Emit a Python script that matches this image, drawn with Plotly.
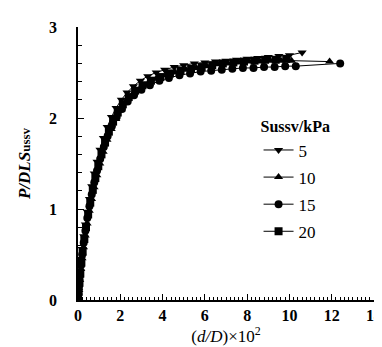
import plotly.graph_objects as go

# ---- data (x = (d/D)x10^2, y = P/DLSussv) ----
x5 = [0, 0.03, 0.06, 0.1, 0.15, 0.2, 0.27, 0.35, 0.44, 0.54, 0.65, 0.77, 0.9, 1.04, 1.2, 1.38, 1.58, 1.8, 2.05, 2.32, 2.62, 2.95, 3.3, 3.7, 4.1, 4.55, 5.0, 5.5, 6.0, 6.5, 7.0, 7.5, 8.0, 8.5, 9.0, 9.5, 10.0, 10.6]
y5 = [0, 0.1, 0.2, 0.32, 0.45, 0.56, 0.7, 0.83, 0.97, 1.11, 1.25, 1.39, 1.52, 1.65, 1.78, 1.9, 2.01, 2.11, 2.2, 2.28, 2.35, 2.41, 2.46, 2.5, 2.53, 2.56, 2.58, 2.6, 2.61, 2.62, 2.63, 2.64, 2.65, 2.66, 2.67, 2.68, 2.69, 2.72]

x10 = [0, 0.04, 0.08, 0.13, 0.19, 0.26, 0.34, 0.43, 0.53, 0.64, 0.76, 0.89, 1.03, 1.19, 1.37, 1.57, 1.79, 2.03, 2.3, 2.6, 2.93, 3.3, 3.7, 4.15, 4.6, 5.1, 5.6, 6.1, 6.6, 7.1, 7.6, 8.1, 8.6, 9.1, 9.6, 10.1, 11.9]
y10 = [0, 0.11, 0.22, 0.34, 0.46, 0.58, 0.71, 0.84, 0.98, 1.11, 1.24, 1.37, 1.5, 1.63, 1.76, 1.88, 1.99, 2.09, 2.18, 2.26, 2.32, 2.38, 2.43, 2.47, 2.5, 2.53, 2.55, 2.57, 2.59, 2.6, 2.61, 2.62, 2.62, 2.63, 2.63, 2.63, 2.62]

x15 = [0, 0.02, 0.05, 0.09, 0.14, 0.2, 0.27, 0.35, 0.44, 0.54, 0.65, 0.77, 0.9, 1.05, 1.22, 1.4, 1.6, 1.83, 2.08, 2.35, 2.65, 3.0, 3.4, 3.85, 4.3, 4.8, 5.3, 5.8, 6.3, 6.8, 7.3, 7.8, 8.3, 8.8, 9.3, 9.8, 10.3, 12.4]
y15 = [0, 0.06, 0.15, 0.26, 0.38, 0.5, 0.63, 0.76, 0.9, 1.03, 1.16, 1.29, 1.42, 1.55, 1.68, 1.8, 1.91, 2.01, 2.1, 2.18, 2.25, 2.31, 2.36, 2.41, 2.44, 2.47, 2.49, 2.51, 2.52, 2.53, 2.54, 2.55, 2.55, 2.56, 2.56, 2.57, 2.57, 2.6]

x20 = [0, 0.03, 0.07, 0.11, 0.16, 0.22, 0.3, 0.38, 0.48, 0.58, 0.7, 0.82, 0.96, 1.11, 1.28, 1.46, 1.66, 1.88, 2.12, 2.4, 2.7, 3.05, 3.45, 3.9, 4.35, 4.85, 5.35, 5.85, 6.35, 6.85, 7.35, 7.85, 8.35, 8.85, 9.35, 9.85]
y20 = [0, 0.09, 0.19, 0.29, 0.41, 0.53, 0.67, 0.8, 0.94, 1.07, 1.21, 1.34, 1.47, 1.6, 1.73, 1.85, 1.96, 2.06, 2.15, 2.23, 2.3, 2.36, 2.41, 2.45, 2.49, 2.52, 2.54, 2.56, 2.58, 2.6, 2.61, 2.62, 2.63, 2.64, 2.64, 2.65]

series_names = ["5", "10", "15", "20"]
series_x = [x5, x10, x15, x20]
series_y = [y5, y10, y15, y20]
symbols = ["triangle-down", "triangle-up", "circle", "square"]

FONT = "'Liberation Serif', 'Times New Roman', 'DejaVu Serif', serif"

fig = go.Figure()
for name, xs, ys, sym in zip(series_names, series_x, series_y, symbols):
    fig.add_trace(go.Scatter(
        x=xs, y=ys, mode="lines+markers", name=name, legendgroup=name,
        line=dict(color="black", width=1),
        marker=dict(symbol=sym, size=8, color="black"),
    ))

fig.update_layout(
    width=382, height=347,
    margin=dict(l=70, r=16, t=19, b=55),
    plot_bgcolor="white", paper_bgcolor="white",
    font=dict(family=FONT, color="black"),
    showlegend=True,
    legend=dict(
        x=0.61, y=0.69, xanchor="left", yanchor="top",
        bgcolor="rgba(0,0,0,0)",
        title=dict(text="Sussv/kPa", font=dict(family=FONT, size=16, weight="bold")),
        font=dict(family=FONT, size=17),
        tracegroupgap=2,
    ),
    xaxis=dict(
        range=[0, 14], tickvals=[0, 2, 4, 6, 8, 10, 12, 14],
        ticks="inside", ticklen=6, tickcolor="black", tickwidth=1,
        minor=dict(dtick=0.2, ticks="inside", ticklen=3, tickcolor="black"),
        showline=True, linecolor="black", linewidth=1.5,
        showgrid=False, zeroline=False, automargin=False,
        tickfont=dict(family=FONT, size=16, weight="bold"),
        ticklabelstandoff=0, ticklabeloverflow="allow",
        title=dict(text="(<i>d/D</i>)×10<sup>2</sup>", font=dict(family=FONT, size=17), standoff=4),
    ),
    yaxis=dict(
        range=[0, 3], tickvals=[0, 1, 2, 3],
        ticks="inside", ticklen=6, tickcolor="black", tickwidth=1,
        minor=dict(dtick=0.2, ticks="inside", ticklen=4, tickcolor="black"),
        showline=True, linecolor="black", linewidth=1.5,
        showgrid=False, zeroline=False, automargin=False,
        tickfont=dict(family=FONT, size=16, weight="bold"),
        ticklabelstandoff=16,
        title=dict(text="<i><b>P/DLS</b></i><span style='font-size:13px'><b>ussv</b></span>",
                   font=dict(family=FONT, size=17), standoff=14),
    ),
)

fig.write_html("out.html")
